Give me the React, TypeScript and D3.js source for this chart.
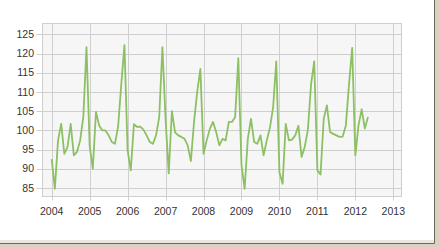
import React from "react";
import * as d3 from "d3";

const startYear = 2004;
const values2004 = [92.5, 84.8, 97.4, 101.7, 93.9, 95.7, 101.7, 93.5, 94.4, 97.4, 103.5, 121.7];
const values2005 = [96, 90, 104.8, 101.3, 100, 100, 98.7, 97, 96.5, 101, 112, 122.2];
const values2006 = [94.8, 89.6, 101.6, 100.9, 101, 100.2, 98.7, 97, 96.5, 98.7, 103.5, 121.7];
const values2007 = [103, 88.8, 105, 99.5, 98.7, 98.3, 97.8, 96.1, 92, 102.2, 110, 116];
const values2008 = [93.9, 97.4, 100.4, 102.2, 99.6, 96.1, 97.8, 97.4, 102.2, 102.2, 103.5, 118.8];
const values2009 = [91, 84.8, 97.8, 103, 97, 96.5, 98.7, 93.5, 97.4, 100.7, 106, 118];
const values2010 = [89.1, 86.1, 101.7, 97.4, 97.6, 98.7, 101.2, 93.1, 95.7, 100.2, 112, 118];
const values2011 = [89.6, 88.5, 103, 106.5, 99.6, 99.1, 98.7, 98.3, 98.4, 101.3, 112, 121.5];
const values2012 = [93.5, 101.3, 105.5, 100.5, 103.5];

const yearTicks = [2004, 2005, 2006, 2007, 2008, 2009, 2010, 2011, 2012, 2013];
const valueTicks = [85, 90, 95, 100, 105, 110, 115, 120, 125];

const series = [
  ...values2004, ...values2005, ...values2006, ...values2007, ...values2008,
  ...values2009, ...values2010, ...values2011, ...values2012,
].map((v, i) => ({ t: startYear + i / 12, v }));

export default function App() {
  const W = 439, H = 247;
  const x = d3.scaleLinear().domain([2004, 2013]).range([51.7, 393.3]);
  const y = d3.scaleLinear().domain([85, 125]).range([188, 34.4]);
  const left = 42.5, right = 401.5, top = 23.5, bottom = 196.5;
  const line = d3.line<{ t: number; v: number }>().x(d => x(d.t)).y(d => y(d.v));
  const font = "'Liberation Sans', Arial, sans-serif";
  return (
    <div style={{ position: "absolute", left: 0, top: 0 }}>
      <svg width={W} height={H} style={{ display: "block" }}>
        <rect x={0} y={0} width={W} height={H} fill="#d9d2c1" />
        <rect x={0} y={0} width={434} height={243} fill="#ffffff" />
        <rect x={0} y={240} width={434} height={3} fill="#e9e6e0" />
        <line x1={434.5} y1={0} x2={434.5} y2={243.5} stroke="#6e6858" strokeWidth={1} />
        <line x1={0} y1={243.5} x2={434.5} y2={243.5} stroke="#6e6858" strokeWidth={1} />
        <rect x={left} y={top} width={right - left} height={bottom - top} fill="#f6f6f6" stroke="#cfcfcf" />
        {valueTicks.map(t => (
          <g key={t}>
            <line x1={36.5} x2={right} y1={Math.round(y(t)) + 0.5} y2={Math.round(y(t)) + 0.5} stroke="#cfcfcf" />
            <text x={34} y={y(t)} dy="0.35em" textAnchor="end" fontSize={10.5} fill="#333" fontFamily={font}>{t}</text>
          </g>
        ))}
        {yearTicks.map(t => (
          <g key={t}>
            <line x1={Math.round(x(t)) + 0.5} x2={Math.round(x(t)) + 0.5} y1={top} y2={bottom + 4} stroke="#cfcfcf" />
            <text x={x(t)} y={214.5} textAnchor="middle" fontSize={10.5} fill="#333" fontFamily={font}>{t}</text>
          </g>
        ))}
        <path d={line(series) ?? ""} fill="none" stroke="#8cc063" strokeWidth={1.8} strokeLinejoin="round" />
      </svg>
    </div>
  );
}
